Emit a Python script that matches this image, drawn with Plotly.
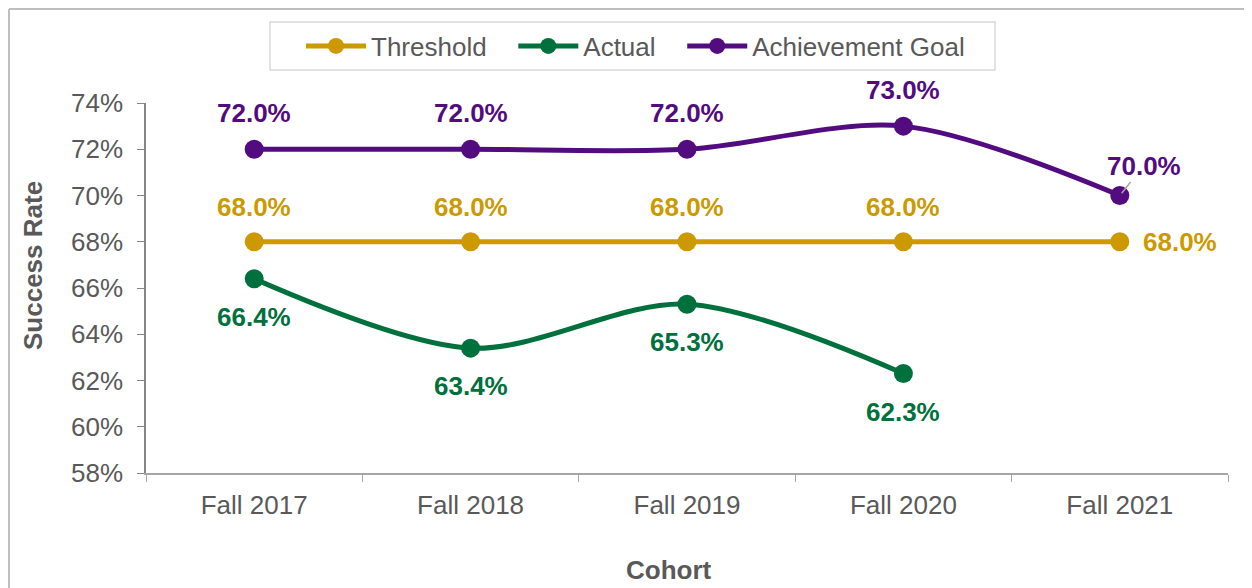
import plotly.graph_objects as go

cohorts = ["Fall 2017", "Fall 2018", "Fall 2019", "Fall 2020", "Fall 2021"]
threshold = [68.0, 68.0, 68.0, 68.0, 68.0]
actual = [66.4, 63.4, 65.3, 62.3, None]
goal = [72.0, 72.0, 72.0, 73.0, 70.0]
y_ticks = [58, 60, 62, 64, 66, 68, 70, 72, 74]

GOLD = "#cc9a00"
GREEN = "#00703c"
PURPLE = "#530c80"
GREY = "#595959"
FONT = "Liberation Sans, Arial, sans-serif"

W, H = 1244, 580
L, T, PW, PH = 138, 95, 1082, 370


def px_x(p):
    # page pixel -> paper x
    return (p - 8 - L) / PW


def px_y(p):
    # page pixel -> paper y
    return (T + PH - (p - 8)) / PH


pad = "\u00a0" * 3

fig = go.Figure()

fig.add_trace(go.Scatter(
    x=cohorts, y=threshold, name="Threshold" + pad, mode="lines+markers",
    line=dict(color=GOLD, width=5), marker=dict(size=19, color=GOLD),
))
fig.add_trace(go.Scatter(
    x=cohorts, y=actual, name="Actual" + pad, mode="lines+markers",
    line=dict(color=GREEN, width=5, shape="spline", smoothing=0.9),
    marker=dict(size=19, color=GREEN),
))
fig.add_trace(go.Scatter(
    x=cohorts, y=goal, name="Achievement Goal", mode="lines+markers",
    line=dict(color=PURPLE, width=5, shape="spline", smoothing=0.9),
    marker=dict(size=19, color=PURPLE),
))

annotations = []
for i, (c, v) in enumerate(zip(cohorts, threshold)):
    last = i == len(cohorts) - 1
    annotations.append(dict(
        x=c, y=v, text=f"{v:.1f}%", showarrow=False,
        xshift=60 if last else 0, yshift=0 if last else 35,
        font=dict(size=26, color=GOLD, family=FONT, weight="bold"),
    ))
for c, v in zip(cohorts, actual):
    if v is None:
        continue
    annotations.append(dict(
        x=c, y=v, text=f"{v:.1f}%", showarrow=False, yshift=-38,
        font=dict(size=26, color=GREEN, family=FONT, weight="bold"),
    ))
for i, (c, v) in enumerate(zip(cohorts, goal)):
    last = i == len(cohorts) - 1
    if last:
        annotations.append(dict(
            x=c, y=v, text=f"{v:.1f}%", showarrow=True, arrowhead=0,
            arrowwidth=1.5, arrowcolor="#a6a6a6", ax=24, ay=-30,
            standoff=3,
            font=dict(size=26, color=PURPLE, family=FONT, weight="bold"),
        ))
    else:
        annotations.append(dict(
            x=c, y=v, text=f"{v:.1f}%", showarrow=False, yshift=36,
            font=dict(size=26, color=PURPLE, family=FONT, weight="bold"),
        ))

# axis titles placed as in the reference (not centred on the plot area)
annotations.append(dict(
    text="Success Rate", textangle=-90, showarrow=False,
    xref="paper", yref="paper", x=px_x(33), y=px_y(266),
    xanchor="center", yanchor="middle",
    font=dict(size=26, color=GREY, family=FONT, weight="bold"),
))
annotations.append(dict(
    text="Cohort", showarrow=False,
    xref="paper", yref="paper", x=px_x(669), y=px_y(570),
    xanchor="center", yanchor="middle",
    font=dict(size=26, color=GREY, family=FONT, weight="bold"),
))

border = dict(color="#bfbfbf", width=2)
fig.update_layout(
    width=W, height=H,
    margin=dict(l=L, r=W - L - PW, t=T, b=H - T - PH),
    paper_bgcolor="white", plot_bgcolor="white",
    font=dict(family=FONT, size=26, color=GREY),
    showlegend=True,
    legend=dict(
        orientation="h", xanchor="left", x=px_x(301), yanchor="middle", y=px_y(46),
        borderwidth=0, bgcolor="rgba(0,0,0,0)",
        font=dict(size=26, color=GREY),
        itemwidth=60, tracegroupgap=0,
    ),
    xaxis=dict(
        showgrid=False, showline=True, linecolor="#a6a6a6", linewidth=2,
        ticks="outside", tickcolor="#a6a6a6", ticklen=7, tickson="boundaries",
        range=[-0.5, 4.5], ticklabelstandoff=8,
    ),
    yaxis=dict(
        showgrid=False, showline=True, linecolor="#868686", linewidth=1.5,
        ticks="outside", tickcolor="#868686", ticklen=7,
        range=[58, 74], tickvals=y_ticks, ticktext=[f"{t}%" for t in y_ticks],
        zeroline=False, ticklabelstandoff=9,
    ),
    annotations=annotations,
    shapes=[
        # outer chart border (left and top edges)
        dict(type="line", xref="paper", yref="paper", layer="below", line=border,
             x0=px_x(9), x1=px_x(9), y0=px_y(600), y1=px_y(9)),
        dict(type="line", xref="paper", yref="paper", layer="below", line=border,
             x0=px_x(9), x1=px_x(1260), y0=px_y(9), y1=px_y(9)),
        # legend frame
        dict(type="rect", xref="paper", yref="paper", layer="below",
             line=dict(color="#d9d9d9", width=1.5),
             x0=px_x(270), x1=px_x(995), y0=px_y(70), y1=px_y(22)),
    ],
)

fig.write_html("out.html")
